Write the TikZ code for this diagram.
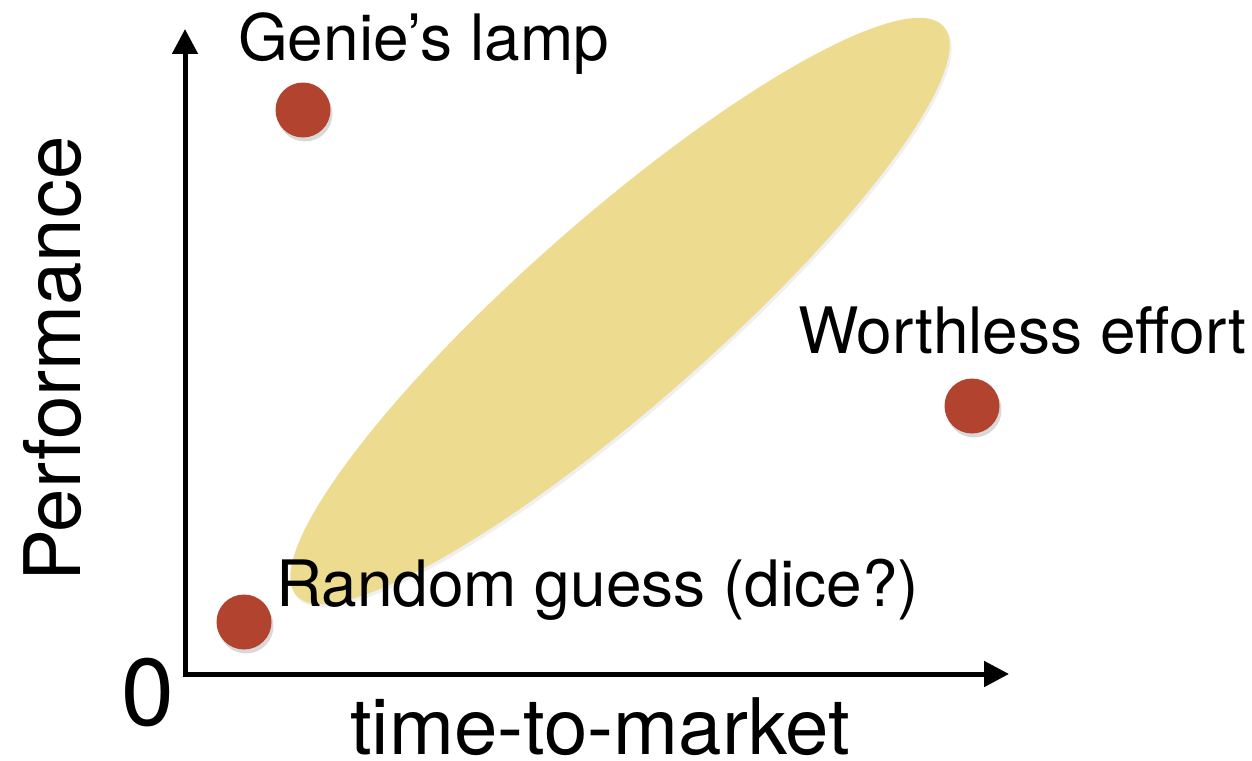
\documentclass[tikz,border=0pt]{standalone}
\usepackage{fontspec}
\setmainfont{TeX Gyre Heros}
\usepackage{tikz}
\usetikzlibrary{positioning,calc,arrows.meta,shapes.geometric,shadows}
\definecolor{Dot}{HTML}{B2442F}
\definecolor{Region}{HTML}{EDDC8F}

\tikzset{
	dot/.style={
		circle,
		fill=Dot,
		minimum size=55pt,
		inner sep=0pt,
		drop shadow={opacity=0.3,shadow xshift=2pt,shadow yshift=-4pt}
	},
	lbl/.style={
		anchor=base west,
		inner sep=0pt,
		font=\fontsize{64}{70}\selectfont
	},
	axislbl/.style={
		anchor=base west,
		inner sep=0pt,
		text depth=0pt,
		font=\fontsize{78}{86}\selectfont
	}
}

\begin{document}
\begin{tikzpicture}[x=1pt,y=-1pt]
			
			\useasboundingbox (0,0) rectangle (1252,760);
			
			% ---------------------------------------------------------
			% REGION
			% ---------------------------------------------------------
			
			\node[
			ellipse,
			fill=Region,
			inner sep=0pt,
			minimum width=862pt,
			minimum height=188pt,
			rotate=41.3,
			drop shadow={opacity=0.12,shadow xshift=2pt,shadow yshift=-3pt}
			]
			(region) at (620,311) {};
			
			% ---------------------------------------------------------
			% AXES
			% ---------------------------------------------------------
			
			\coordinate (origin) at (185,674);
			\coordinate (ytip) at (185,29);
			\coordinate (xtip) at (1009,674);
			
			\draw[-{Triangle[length=25pt,width=25pt]},line width=5pt]
			(origin) -- (ytip);
			
			\draw[-{Triangle[length=25pt,width=25pt]},line width=5pt]
			($(origin)+(-2.5,0)$) -- (xtip);
			
			\node[axislbl,rotate=90] (perf) at (80,582) {Performance};
			
			\node[axislbl] (ttm) at (350,754) {time-to-market};
			
			\node[
			anchor=base west,
			inner sep=0pt,
			font=\fontsize{95}{100}\selectfont
			]
			(zero) at (121,725) {0};
			
			% ---------------------------------------------------------
			% POINTS
			% ---------------------------------------------------------
			
			\node[dot] (genie) at (303,110) {};
			\node[lbl] (genielbl) at (238,60) {Genie’s lamp};
			
			\node[dot] (worthless) at (972,406) {};
			\node[lbl] (worthlesslbl) at (798,353) {Worthless effort};
			
			\node[dot] (random) at (244,622) {};
			\node[lbl] (randomlbl) at (276,606) {Random guess (dice?)};
			
		\end{tikzpicture}
\end{document}
